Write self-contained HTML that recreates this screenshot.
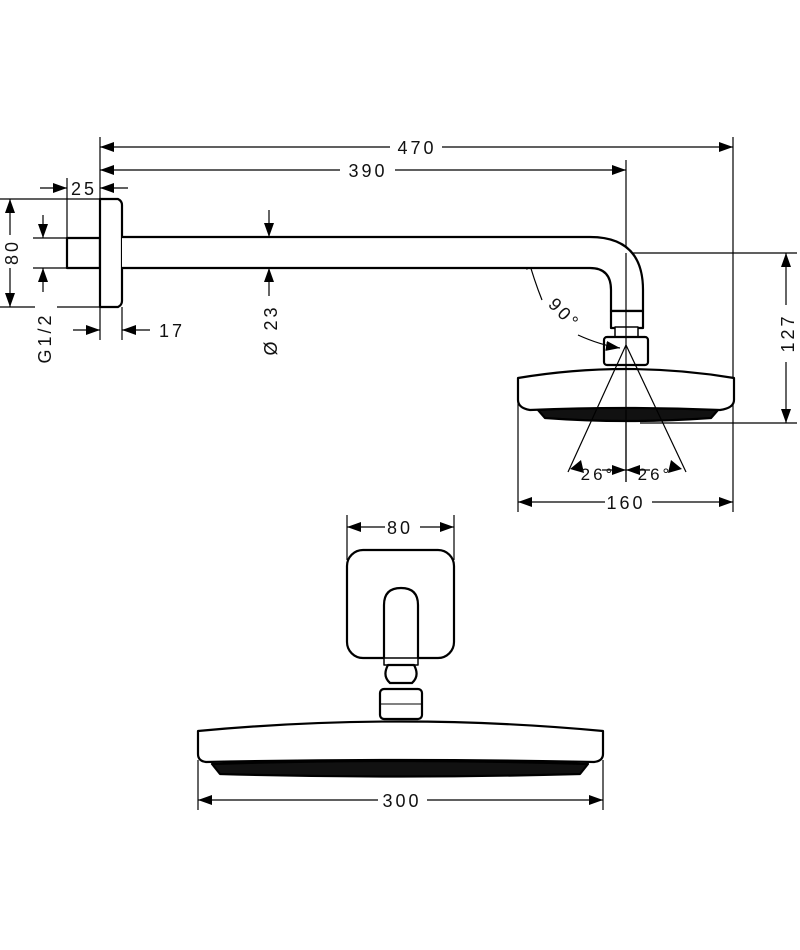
<!DOCTYPE html>
<html><head><meta charset="utf-8"><style>
html,body{margin:0;padding:0;background:#fff;}
svg{display:block;}
text{font-family:"Liberation Sans",sans-serif;font-size:18px;fill:#111;letter-spacing:3px;}
</style></head><body>
<svg width="800" height="950" viewBox="0 0 800 950" xmlns="http://www.w3.org/2000/svg">
<defs>
<marker id="a" viewBox="0 0 14 10" refX="14" refY="5" markerWidth="14" markerHeight="10" markerUnits="userSpaceOnUse" orient="auto-start-reverse">
<path d="M0,0 L14,5 L0,10 Z" fill="#000"/></marker>
</defs>
<g stroke="#000" stroke-width="1.2" fill="none">
<line x1="100" y1="137" x2="100" y2="340"/>
<line x1="733" y1="137" x2="733" y2="512"/>
<line x1="626" y1="160" x2="626" y2="482"/>
<line x1="122" y1="307" x2="122" y2="340"/>
<line x1="67" y1="178" x2="67" y2="238"/>
<line x1="0" y1="199" x2="100" y2="199"/>
<line x1="0" y1="307" x2="35" y2="307"/><line x1="57" y1="307" x2="100" y2="307"/>
<line x1="33" y1="238" x2="67" y2="238"/>
<line x1="33" y1="268" x2="67" y2="268"/>
<line x1="515" y1="253" x2="620" y2="253"/><line x1="632" y1="253" x2="797" y2="253"/>
<line x1="640" y1="423" x2="797" y2="423"/>
<line x1="518" y1="400" x2="518" y2="512"/>
<line x1="100" y1="147" x2="390" y2="147" marker-start="url(#a)"/>
<line x1="442" y1="147" x2="733" y2="147" marker-end="url(#a)"/>
<line x1="100" y1="170" x2="340" y2="170" marker-start="url(#a)"/>
<line x1="395" y1="170" x2="626" y2="170" marker-end="url(#a)"/>
<line x1="40" y1="188" x2="67" y2="188" marker-end="url(#a)"/>
<line x1="128" y1="188" x2="100" y2="188" marker-end="url(#a)"/>
<line x1="10" y1="199" x2="10" y2="235" marker-start="url(#a)"/>
<line x1="10" y1="268" x2="10" y2="307" marker-end="url(#a)"/>
<line x1="43" y1="215" x2="43" y2="238" marker-end="url(#a)"/>
<line x1="43" y1="292" x2="43" y2="268" marker-end="url(#a)"/>
<line x1="73" y1="330" x2="100" y2="330" marker-end="url(#a)"/>
<line x1="150" y1="330" x2="122" y2="330" marker-end="url(#a)"/>
<line x1="269" y1="210" x2="269" y2="237" marker-end="url(#a)"/>
<line x1="269" y1="296" x2="269" y2="268" marker-end="url(#a)"/>
<line x1="786" y1="253" x2="786" y2="305" marker-start="url(#a)"/>
<line x1="786" y1="362" x2="786" y2="423" marker-end="url(#a)"/>
<line x1="518" y1="502" x2="605" y2="502" marker-start="url(#a)"/>
<line x1="652" y1="502" x2="733" y2="502" marker-end="url(#a)"/>
<path d="M542,300 Q534,280 527,255" marker-end="url(#a)"/>
<line x1="347" y1="515" x2="347" y2="560"/>
<line x1="454" y1="515" x2="454" y2="560"/>
<line x1="347" y1="527" x2="385" y2="527" marker-start="url(#a)"/>
<line x1="420" y1="527" x2="454" y2="527" marker-end="url(#a)"/>
<line x1="198" y1="760" x2="198" y2="810"/>
<line x1="603" y1="760" x2="603" y2="810"/>
<line x1="198" y1="800" x2="378" y2="800" marker-start="url(#a)"/>
<line x1="427" y1="800" x2="603" y2="800" marker-end="url(#a)"/>
</g>
<g stroke="#000" stroke-width="2.2" fill="#fff" stroke-linejoin="round">
<rect x="67" y="238" width="33" height="30"/>
<path d="M100,199 L118,199 Q122,201 122,205 L122,301 Q122,305 118,307 L100,307 Z"/>
<path d="M122,237 L590,237 Q643,237 643,290 L643,311 L611,311 L611,290 Q611,268 590,268 L122,268"/>
<rect x="611" y="311" width="32" height="17"/>
<rect x="615" y="327" width="23" height="11" stroke-width="1.5"/>
<rect x="604" y="337" width="44" height="28" rx="3"/>
<path d="M538,410 Q626,404 718,410 L711,418 Q626,424 545,418 Z" fill="#111"/>
<path d="M518,378 Q626,360 734,378 L734,400 Q734,408 720,410 Q626,406 530,410 Q518,408 518,400 Z"/>
<rect x="347" y="550" width="107" height="108" rx="16"/>
<path d="M384,658 L384,605 Q384,588 401,588 Q418,588 418,605 L418,658"/>
<rect x="384" y="658" width="34" height="7" stroke-width="1.5"/>
<path d="M388,665 L414,665 Q420,676 412,683 L390,683 Q382,676 388,665 Z"/>
<rect x="380" y="689" width="42" height="30" rx="4"/>
<line x1="380" y1="704" x2="422" y2="704" stroke-width="1"/>
<path d="M212,764 Q400,758 588,764 L580,774 Q400,779 220,774 Z" fill="#111"/>
<path d="M198,731 Q400,712 603,731 L603,754 Q603,761 594,762 Q400,758 206,762 Q198,761 198,754 Z"/>
</g>
<g stroke="#000" stroke-width="1.2" fill="none">
<line x1="626" y1="253" x2="626" y2="482"/>
<line x1="626" y1="345" x2="568" y2="472"/>
<line x1="626" y1="345" x2="686" y2="472"/>
<path d="M578,335 Q600,345 620,348" marker-end="url(#a)"/>
<line x1="602" y1="470" x2="626" y2="470" marker-end="url(#a)"/>
<line x1="650" y1="470" x2="626" y2="470" marker-end="url(#a)"/>
</g>
<path d="M581,460 L570,469 L584,473 Z" fill="#000"/>
<path d="M671,460 L682,469 L668,473 Z" fill="#000"/>
<text x="417" y="154" text-anchor="middle">470</text>
<text x="368" y="177" text-anchor="middle">390</text>
<text x="84" y="195" text-anchor="middle">25</text>
<text x="172" y="337" text-anchor="middle">17</text>
<text x="626" y="509" text-anchor="middle">160</text>
<text x="400" y="534" text-anchor="middle">80</text>
<text x="402" y="807" text-anchor="middle">300</text>
<text x="598" y="480" text-anchor="middle" style="font-size:17px">26°</text>
<text x="655" y="480" text-anchor="middle" style="font-size:17px">26°</text>
<text transform="translate(18,252) rotate(-90)" text-anchor="middle">80</text>
<text transform="translate(51,338) rotate(-90)" text-anchor="middle">G1/2</text>
<text transform="translate(277,330) rotate(-90)" text-anchor="middle">Ø 23</text>
<text transform="translate(794,333) rotate(-90)" text-anchor="middle">127</text>
<text transform="translate(560,318) rotate(45)" text-anchor="middle">90°</text>
</svg>
</body></html>
